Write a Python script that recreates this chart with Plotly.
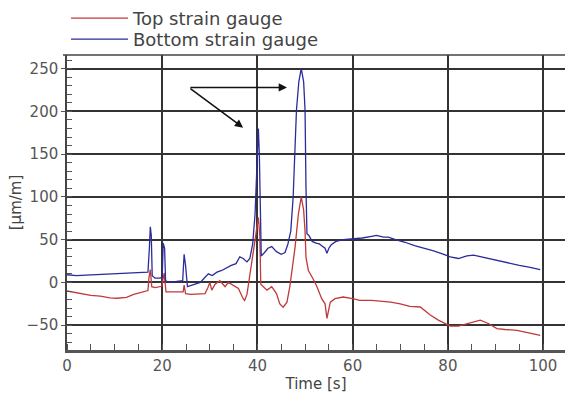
import plotly.graph_objects as go

# Bottom strain gauge (blue)
bottom_t = [0, 2, 4, 6, 8, 10, 12, 14, 16, 17.0, 17.3, 17.5, 17.7, 17.9, 18.5, 19.5, 20.0, 20.2, 20.5, 20.7,
            21.5, 23, 24.3, 24.6, 24.9, 25.3, 26.5, 28, 29, 29.7, 30.5, 31.5, 32.5, 33.5, 34.5, 35.5, 36.3, 37.0,
            37.8, 38.4, 39.0, 39.5, 39.8, 40.0, 40.2, 40.4, 40.6, 40.8, 41.5, 42.2, 43.0, 44.0, 45.0, 45.8, 46.4,
            47.0, 47.5, 47.9, 48.2, 48.7, 49.2, 49.7, 50.0, 50.2, 50.4, 50.8, 51.5, 52.3, 53.0, 53.5, 54.2, 54.6,
            55.0, 55.5, 56.5, 58, 60, 62, 64, 65, 66.5, 67.5, 69, 71, 73, 75, 77, 79, 80.5, 82.2, 84, 85.4, 87,
            89, 91, 93, 95, 97, 99.4]
bottom_v = [9, 8, 8.5, 9, 10, 10, 10.5, 11, 11.5, 12, 40, 65, 55, 8, 5, 5, 6, 46, 40, 2,
            0, 1, 2, 33, 20, -5, -3, 0, 6, 10, 8, 12, 14, 17, 20, 22, 30, 28,
            24, 28, 45, 80, 120, 165, 180, 150, 60, 31, 35, 40, 42, 36, 33, 35, 45,
            60, 100, 148, 202, 235, 250, 235, 202, 110, 57, 55, 48, 46, 45, 43, 40, 34,
            40, 44, 48, 50, 51, 52, 54, 55, 53, 53, 50, 47, 43, 40, 37, 33, 30, 28, 31, 32, 30,
            27, 25, 22, 20, 18, 15]

# Top strain gauge (red)
top_t = [0, 1, 3, 5, 7, 9, 10.5, 12.5, 14, 15.3, 17.0, 17.2, 17.5, 17.8, 18.5, 19.9, 20.2, 20.4, 20.8, 22,
         24.4, 24.6, 24.9, 26, 28, 29, 29.6, 30.0, 30.4, 31.1, 32.1, 33.2, 33.9, 34.9, 36.0, 37.0, 37.3, 37.8,
         38.1, 38.8, 39.4, 39.8, 40.2, 40.5, 40.7, 42, 43, 44, 44.7, 45.4, 46.2, 46.8, 47.9, 48.6, 49.2, 49.7,
         50.0, 50.2, 50.7, 51.7, 52.5, 53.5, 54.2, 54.6, 55.3, 56.3, 58, 60, 61.5, 64, 68, 70, 72, 74.2, 76.3,
         78, 80.5, 82.2, 84, 86.8, 88.5, 90.3, 92, 94.5, 97, 99.4]
top_v = [-10, -11, -13, -15, -16, -18, -18.5, -17.5, -14, -12, -9.5, 5, 15, -5, -6, -4.5, 5, 11, -11, -11,
         -11, -3, -13, -14, -13, -13, -6, 0, -9, -2, 2, -5, 0, -3, -7, -19, -21, -14,
         -3, 25, 50, 64, 76, 55, -2, -9, -5, -13, -25, -29, -23, -5, 41, 80, 100, 85,
         60, 29, 14, 4, -5, -19, -25, -42, -23, -19, -17, -19, -21, -21, -23, -25, -28, -28.7, -38,
         -44, -51, -51, -48, -44, -48, -54, -55, -56, -59, -62]

x_ticks = [0, 20, 40, 60, 80, 100]
y_ticks = [-50, 0, 50, 100, 150, 200, 250]

RED = "#c0393b"
BLUE = "#2b2b9b"
GRID = "#333333"
TICKC = "#555555"
FONT = "DejaVu Sans"

fig = go.Figure()
fig.add_trace(go.Scatter(x=top_t, y=top_v, mode="lines", name="Top strain gauge",
                         line=dict(color=RED, width=1.3), legend="legend"))
fig.add_trace(go.Scatter(x=bottom_t, y=bottom_v, mode="lines", name="Bottom strain gauge",
                         line=dict(color=BLUE, width=1.3), legend="legend2"))

# arrows pointing at the two peaks
for tip in [(46.2, 228), (37.0, 181)]:
    fig.add_annotation(x=tip[0], y=tip[1], ax=25.6, ay=228, xref="x", yref="y", axref="x", ayref="y",
                       showarrow=True, arrowhead=2, arrowsize=1.1, arrowwidth=1.5, arrowcolor="#111", text="")

# top frame line
fig.add_shape(type="line", xref="paper", yref="paper", x0=-0.008, x1=1, y0=1, y1=1,
              line=dict(color="#444", width=1.5))

legend_common = dict(xanchor="left", yanchor="middle", bgcolor="rgba(0,0,0,0)",
                     font=dict(size=18, color="#444", family=FONT), itemwidth=57)

fig.update_layout(
    width=565, height=396,
    margin=dict(l=67, r=0, t=53, b=46),
    paper_bgcolor="white", plot_bgcolor="white",
    font=dict(family=FONT, color=TICKC, size=15),
    showlegend=True,
    legend=dict(x=-0.002, y=1.124, **legend_common),
    legend2=dict(x=-0.002, y=1.053, **legend_common),
    xaxis=dict(range=[0, 104.6], tickvals=x_ticks, showgrid=True, gridcolor=GRID, gridwidth=1.5,
               zeroline=False, showline=True, linecolor="#555", linewidth=3, ticks="", automargin=False,
               minor=dict(ticks="inside", dtick=5, tick0=0, ticklen=6, tickcolor="#555", tickwidth=1.2, showgrid=False),
               title=dict(text="Time [s]", font=dict(size=15, color="#444"), standoff=2),
               tickfont=dict(size=15, color=TICKC)),
    yaxis=dict(range=[-79, 266], tickvals=y_ticks, showgrid=True, gridcolor=GRID, gridwidth=1.5,
               zeroline=False, showline=True, linecolor="#444", linewidth=1.5, ticks="outside", ticklen=4,
               tickcolor="#555", automargin=False,
               minor=dict(ticks="inside", dtick=10, tick0=0, ticklen=5, tickcolor="#555", tickwidth=1, showgrid=False),
               title=dict(text="[µm/m]", font=dict(size=15, color="#444"), standoff=1),
               tickfont=dict(size=15, color=TICKC)),
)

fig.write_html("out.html", config={"displayModeBar": False},
               post_script="document.body.style.margin='0';")
